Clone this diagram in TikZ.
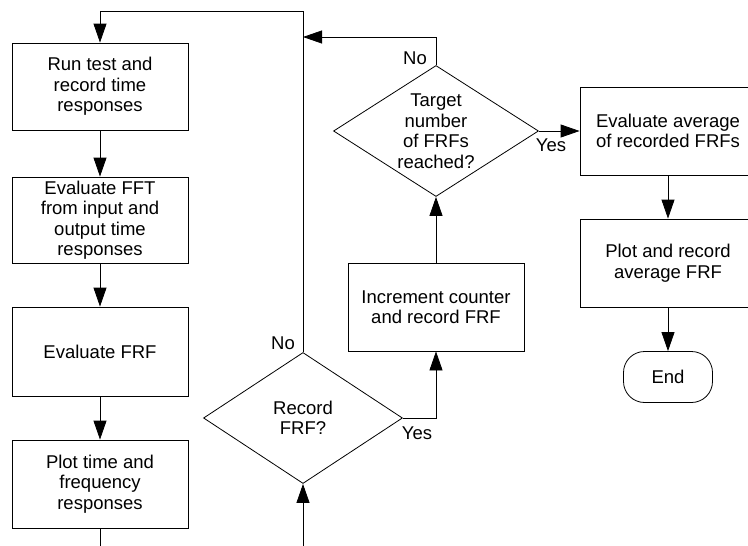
\documentclass[tikz,border=0pt]{standalone}
\usepackage{fontspec}
\setmainfont{Liberation Sans}
\usetikzlibrary{shapes.geometric,arrows.meta}
\begin{document}
\begin{tikzpicture}[x=1pt,y=-1pt,
  every node/.style={font=\fontsize{18.5}{20.5}\selectfont},
  box/.style={draw, line width=0.8pt, minimum width=176pt, inner sep=0pt, align=center},
  dia/.style={draw, diamond, line width=0.8pt, inner sep=0pt},
  txt/.style={align=center, inner sep=0pt},
  lbl/.style={inner sep=0pt},
  conn/.style={line width=0.8pt},
  arr/.style={conn, -{Triangle[length=19pt,width=13pt]}}
]
\useasboundingbox (0,0) rectangle (748,546);
% left column
\node[box, minimum height=87pt] (b1) at (100,86.5) {Run test and\\record time\\responses};
\node[box, minimum height=86pt] (b2) at (100,220) {Evaluate FFT\\from input and\\output time\\responses};
\node[box, minimum height=89pt] (b3) at (100,351.5) {Evaluate FRF};
\node[box, minimum height=88pt] (b4) at (100,484) {Plot time and\\frequency\\responses};
% decisions
\node[dia, minimum width=199pt, minimum height=131pt] (d1) at (303,418) {};
\node[txt] (d1t) at (d1.center) {Record\\FRF?};
\node[box, minimum height=88pt] (inc) at (436,307) {Increment counter\\and record FRF};
\node[dia, minimum width=205pt, minimum height=131pt] (d2) at (436,131) {};
\node[txt] (d2t) at (d2.center) {Target\\number\\of FRFs\\reached?};
% right column
\node[box, minimum height=88pt] (avg) at (668,131) {Evaluate average\\of recorded FRFs};
\node[box, minimum height=88pt] (plot) at (668,263) {Plot and record\\average FRF};
\node[draw, line width=0.8pt, rounded corners=21pt, minimum width=89pt, minimum height=51pt, inner sep=0pt] (end) at (668,377) {End};
% coordinates
\coordinate (top) at (100,11);
\coordinate (topr) at (303,11);
\coordinate (j) at (303,37);
\coordinate (d2up) at (436,37);
\coordinate (bl) at (100,546);
\coordinate (br) at (303,546);
\coordinate (yesc) at (436,418);
% connectors
\draw[arr] (b1) -- (b2);
\draw[arr] (b2) -- (b3);
\draw[arr] (b3) -- (b4);
\draw[conn] (b4.south) -- (bl);
\draw[arr] (br) -- (d1.south);
\draw[arr] (d1.north) -- (topr) -- (top) -- (b1.north);
\draw[arr] (d1.east) -- (yesc) -- (inc.south);
\draw[arr] (inc.north) -- (d2.south);
\draw[arr] (d2.north) -- (d2up) -- (j);
\draw[arr] (d2.east) -- (avg.west);
\draw[arr] (avg) -- (plot);
\draw[arr] (plot) -- (end);
% labels
\node[lbl] (no1) at (283,343) {No};
\node[lbl] (no2) at (415,58) {No};
\node[lbl] (yes1) at (417,433) {Yes};
\node[lbl] (yes2) at (551,145) {Yes};
\end{tikzpicture}
\end{document}
